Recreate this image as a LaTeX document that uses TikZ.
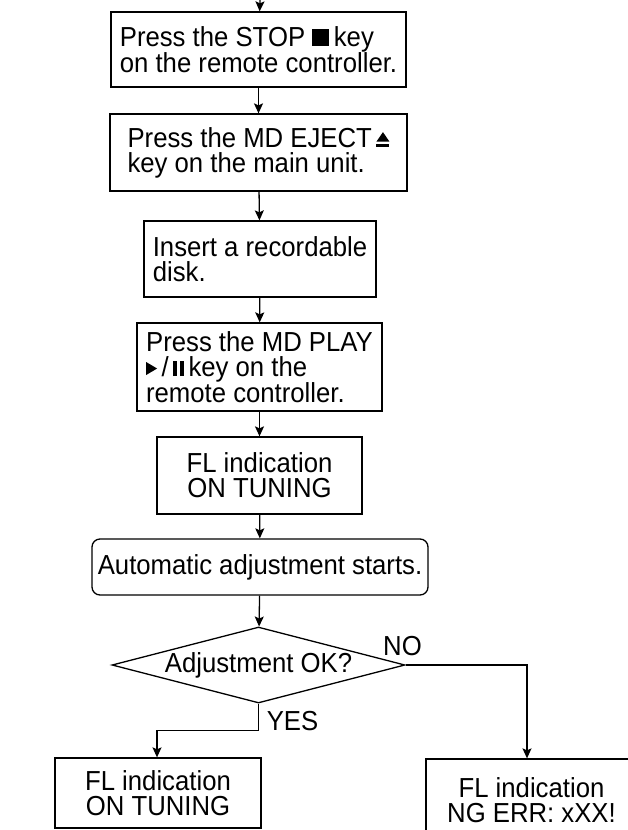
\documentclass[tikz,border=0pt]{standalone}
\usepackage{fontspec}
\setmainfont{Liberation Sans}[FakeStretch=0.935]
\usetikzlibrary{arrows.meta,shapes.geometric}

\newcommand{\stopsym}{\rule{17pt}{17pt}}
\newcommand{\pausesym}{\rule{4pt}{15pt}\hspace{2.5pt}\rule{4pt}{15pt}}
\newcommand{\ejectsym}{\tikz[baseline=0pt]{\fill (0pt,0pt) rectangle (13pt,3pt); \fill (0pt,5.5pt) -- (13pt,5.5pt) -- (6.5pt,15pt) -- cycle;}}
\newcommand{\playsym}{\tikz[baseline=0pt]{\fill (0pt,1pt) -- (11pt,7.5pt) -- (0pt,14pt) -- cycle;}}

\begin{document}
\begin{tikzpicture}[x=1pt,y=-1pt,line join=miter,
  font=\fontsize{27.5}{25}\selectfont,
  box/.style={draw,line width=1.3pt,inner sep=0pt},
  flow/.style={line width=1.3pt,-{Stealth[length=10pt,width=9pt,inset=2pt]}}]
  \useasboundingbox (0,0) rectangle (628,830);
  \clip (0,0) rectangle (628,830);
  \coordinate (start) at (260,0);
  \node[box,minimum width=295,minimum height=75,align=left] (stop) at (258.5,49.5) {Press the STOP \stopsym\,key\\on the remote controller.};
  \node[box,minimum width=297,minimum height=77,align=left] (eject) at (258.5,152.5) {Press the MD EJECT\,\ejectsym\\key on the main unit.\hspace{3em}};
  \node[box,minimum width=232,minimum height=76,align=left] (insert) at (260,259) {Insert a recordable\\disk.};
  \node[box,minimum width=245,minimum height=88,align=left] (play) at (259.5,367) {Press the MD PLAY\\\playsym\,/\,\pausesym\,key on the\\remote controller.};
  \node[box,minimum width=205,minimum height=77,align=center] (tuning) at (259.5,475.5) {FL indication\\ON TUNING};
  \node[box,rounded corners=8pt,minimum width=336,minimum height=56] (auto) at (260,567) {Automatic adjustment starts.};
  \node[box,shape=diamond,aspect=3.86,minimum width=293,minimum height=76] (check) at (258.5,665) {Adjustment OK?};
  \node[box,minimum width=206,minimum height=70,align=center] (okind) at (158,793) {FL indication\\ON TUNING};
  \node[box,minimum width=211,minimum height=82,align=center] (ngind) at (531.5,800) {FL indication\\NG ERR: xXX!};
  \node[inner sep=0pt] (no) at (402.5,646.5) {NO};
  \node[inner sep=0pt] (yes) at (292.5,721) {YES};
  \draw[flow] (start) -- (stop);
  \draw[flow] (stop) -- (eject);
  \draw[flow] (eject) -- (insert);
  \draw[flow] (insert) -- (play);
  \draw[flow] (play) -- (tuning);
  \draw[flow] (tuning) -- (auto);
  \draw[flow] (auto) -- (check);
  \draw[flow] (check.south) -- +(0,27) -| ([xshift=-1pt]okind.north);
  \draw[flow] (check.east) -| ([xshift=-4.5pt]ngind.north);
\end{tikzpicture}
\end{document}
